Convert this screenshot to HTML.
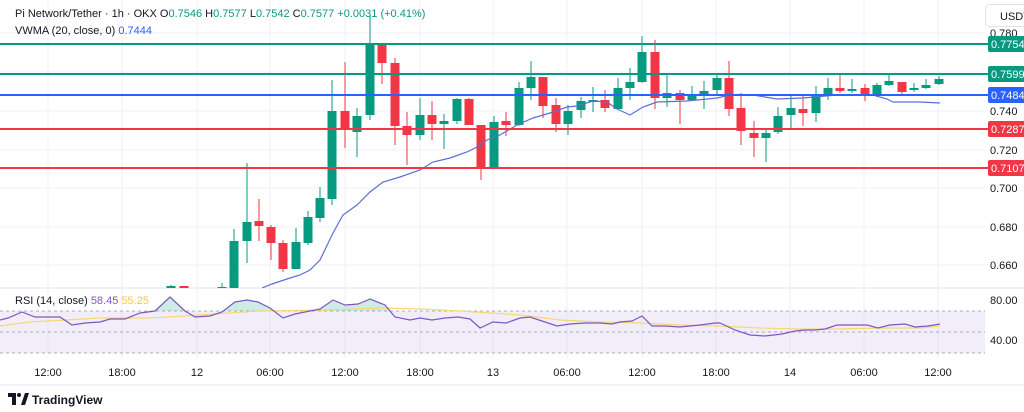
<!DOCTYPE html>
<html><head><meta charset="utf-8"><style>
body{margin:0;background:#fff;width:1024px;height:412px;overflow:hidden;font-family:"Liberation Sans",sans-serif}
svg{display:block}
</style></head><body>
<svg id="s" width="1024" height="412" xmlns="http://www.w3.org/2000/svg" font-family="Liberation Sans, sans-serif">
</svg>
<script>
var s=document.getElementById('s'),h='';
// grid
var gx=[48,122,197,270,345,420,493,567,642,716,790,864,938];
gx.forEach(function(x){h+='<line x1="'+x+'" y1="0" x2="'+x+'" y2="358" stroke="#f0f2f5"/>';});
[33,72,111,150,188,227,265].forEach(function(y){h+='<line x1="0" y1="'+y+'" x2="985" y2="'+y+'" stroke="#f0f2f5"/>';});
h+='<line x1="0" y1="288" x2="1024" y2="288" stroke="#e0e3eb"/>';
h+='<line x1="0" y1="385" x2="1024" y2="385" stroke="#e0e3eb"/>';
// RSI band
h+='<rect x="0" y="311" width="985" height="42" fill="#7e57c2" fill-opacity="0.1"/>';
[311,332,353].forEach(function(y){h+='<line x1="0" y1="'+y+'" x2="985" y2="'+y+'" stroke="#9598a1" stroke-dasharray="3,3" stroke-width="0.8"/>';});
// candles: x,o,c,hi,lo (pixel y)
var C=[[171,288,286,285,288],[184,286,288,286,288],[222,288,287,283,288],[234,290,241,229,290],[247,241,222,163,263],[259,221,226,199,241],[271,227,243,225,260],[283,243,269,240,272],[296,269,242,228,269],[308,243,217,211,245],[320,218,198,187,222],[332,199,111,80,205],[345,111,130,62,148],[357,132,116,108,157],[370,115,44,15,120],[382,44,63,44,84],[395,63,126,58,145],[407,126,135,112,165],[420,135,115,98,140],[432,115,124,101,140],[444,124,121,114,149],[457,121,99,98,124],[469,99,125,98,125],[481,125,168,125,180],[494,167,122,116,168],[506,121,125,112,136],[519,125,88,82,126],[531,88,77,61,100],[543,77,106,77,118],[556,105,124,98,132],[568,124,111,105,135],[581,110,101,97,118],[593,101,100,87,112],[605,100,108,90,112],[618,109,88,78,110],[630,88,82,68,100],[642,82,52,36,83],[655,52,98,40,109],[667,98,93,74,107],[680,93,100,90,124],[692,100,95,86,101],[704,95,91,81,109],[717,90,78,74,96],[729,78,109,61,116],[741,108,131,93,145],[754,133,138,121,157],[766,138,133,130,162],[778,132,116,107,134],[791,115,108,96,128],[803,109,113,96,126],[816,113,96,86,122],[828,95,88,78,100],[840,88,91,74,93],[852,91,89,79,93],[865,88,96,84,101],[877,96,85,83,97],[889,85,81,74,86],[902,82,92,82,96],[914,89,88,83,92],[926,88,85,79,89],[939,84,79,76,85]];
var G='#089981',R='#f23645';
h+='<svg x="0" y="0" width="985" height="288" overflow="hidden">';
C.forEach(function(c){var up=c[2]<c[1],col=up?G:R,t=Math.min(c[1],c[2]),b=Math.max(c[1],c[2]);if(b-t<2){b=t+2;}
h+='<line x1="'+c[0]+'" y1="'+c[3]+'" x2="'+c[0]+'" y2="'+c[4]+'" stroke="'+col+'"/>';
h+='<rect x="'+(c[0]-4.5)+'" y="'+t+'" width="9" height="'+(b-t)+'" fill="'+col+'"/>';});
// vwma
var V=[[262,288],[272,284],[290,278],[300,275],[310,270],[320,260],[333,233],[343,215],[357,205],[370,192],[383,182],[400,177],[420,170],[433,162],[450,158],[467,152],[477,147],[487,140],[500,135],[517,125],[533,118],[550,113],[567,107],[577,106],[593,101],[607,102],[617,109],[630,115],[643,107],[657,102],[687,101],[717,98],[730,95],[753,95],[777,99],[803,98],[837,95],[873,95],[887,99],[893,102],[920,102],[940,103]];
h+='<polyline fill="none" stroke="#5b6fd6" stroke-width="1.2" points="'+V.map(function(p){return p.join(',')}).join(' ')+'"/>';
h+='</svg>';
// levels
var L=[[44,G,'0.7754'],[74,G,'0.7599'],[95,'#2962ff','0.7484'],[129,R,'0.7287'],[168,R,'0.7107']];
L.forEach(function(l){h+='<line x1="0" y1="'+l[0]+'" x2="990" y2="'+l[0]+'" stroke="'+l[1]+'" stroke-width="2"/>';});
// RSI
var RS=[[0,320],[8,318],[22,312],[35,317],[60,317],[72,325],[85,323],[100,322],[110,319],[125,319],[140,313],[155,311],[170,297],[185,311],[195,317],[210,316],[222,312],[235,302],[247,300],[258,302],[270,308],[283,318],[295,314],[310,311],[320,309],[333,300],[345,305],[358,304],[370,299],[385,305],[395,317],[410,320],[420,318],[432,320],[445,318],[458,317],[470,319],[480,328],[493,322],[506,323],[520,318],[530,317],[545,322],[557,326],[570,324],[585,323],[600,323],[612,324],[620,322],[632,321],[642,316],[652,326],[665,326],[680,327],[700,325],[715,323],[720,323],[735,330],[750,335],[765,336],[782,334],[795,331],[805,330],[815,330],[825,329],[837,325],[850,325],[867,325],[878,328],[890,325],[905,324],[915,327],[928,326],[940,324]];
var YS=[[0,326],[30,322],[100,318],[150,318],[200,315],[260,311],[330,310],[380,308],[420,309],[460,311],[520,315],[560,320],[600,322],[640,323],[680,325],[720,326],[760,328],[800,329],[840,329],[880,328],[920,328],[940,326]];
var pts=function(a){return a.map(function(p){return p.join(',')}).join(' ')};
h+='<clipPath id="ob"><rect x="0" y="288" width="985" height="23"/></clipPath>';
h+='<polygon clip-path="url(#ob)" fill="#089981" fill-opacity="0.2" points="0,311 '+pts(RS)+' 940,311"/>';
h+='<polyline fill="none" stroke="#f7d774" stroke-width="1.2" points="'+pts(YS)+'"/>';
h+='<polyline fill="none" stroke="#7e57c2" stroke-width="1.2" points="'+pts(RS)+'"/>';
// price axis
[[33,'0.780'],[111,'0.740'],[150,'0.720'],[188,'0.700'],[227,'0.680'],[265,'0.660'],[300,'80.00'],[340,'40.00']].forEach(function(t){h+='<text x="990" y="'+(t[0]+4)+'" font-size="11" fill="#131722">'+t[1]+'</text>';});
L.forEach(function(l){h+='<rect x="988" y="'+(l[0]-8)+'" width="40" height="16" rx="2" fill="'+l[1]+'"/><text x="991" y="'+(l[0]+4)+'" font-size="11" fill="#fff">'+l[2]+'</text>';});
h+='<rect x="985.5" y="4.5" width="45" height="22" rx="4" fill="#fff" stroke="#e0e3eb"/><text x="1000" y="20" font-size="11" fill="#131722">USDT</text>';
// time axis
var tl=['12:00','18:00','12','06:00','12:00','18:00','13','06:00','12:00','18:00','14','06:00','12:00'];
gx.forEach(function(x,i){h+='<text x="'+x+'" y="376" font-size="11" fill="#131722" text-anchor="middle">'+tl[i]+'</text>';});
// header
h+='<text x="15" y="17" font-size="11" fill="#131722">Pi Network/Tether · 1h · OKX  <tspan>O</tspan><tspan fill="#089981">0.7546</tspan>  H<tspan fill="#089981">0.7577</tspan>  L<tspan fill="#089981">0.7542</tspan>  C<tspan fill="#089981">0.7577</tspan>  <tspan fill="#089981">+0.0031 (+0.41%)</tspan></text>';
h+='<text x="15" y="34" font-size="11" fill="#131722">VWMA (20, close, 0)  <tspan fill="#2962ff">0.7444</tspan></text>';
h+='<text x="15" y="304" font-size="11" fill="#131722">RSI (14, close)  <tspan fill="#7e57c2">58.45</tspan>  <tspan fill="#f7c948">55.25</tspan></text>';
// logo
h+='<path d="M8 393h8v12h-4v-8h-4z" fill="#131722"/><circle cx="19" cy="395" r="2" fill="#131722"/><path d="M21 405l4-12h4l-4 12z" fill="#131722"/>';
h+='<text x="32" y="404" font-size="12" font-weight="bold" fill="#131722">TradingView</text>';
s.innerHTML=h;
</script>
</body></html>
